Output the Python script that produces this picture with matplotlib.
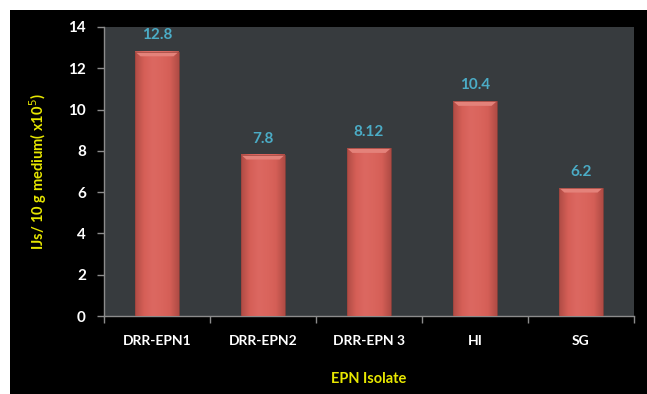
import numpy as np
import matplotlib
matplotlib.use("Agg")
import matplotlib.pyplot as plt
from matplotlib.patches import Rectangle, Polygon
from matplotlib.colors import LinearSegmentedColormap

plt.rcParams['font.family'] = ['Lato', 'DejaVu Sans']

isolates = ["DRR-EPN1", "DRR-EPN2", "DRR-EPN 3", "HI", "SG"]
ijs_counts = [12.8, 7.8, 8.12, 10.4, 6.2]
count_labels = ["12.8", "7.8", "8.12", "10.4", "6.2"]
y_ticks = [0, 2, 4, 6, 8, 10, 12, 14]

fig = plt.figure(figsize=(6.47, 3.94), dpi=100, facecolor="white")
# black chart panel
fig.patches.append(Rectangle((10 / 647, 0), 1, 1 - 10 / 394, transform=fig.transFigure,
                             facecolor="black", edgecolor="none", zorder=-10))

ax = fig.add_axes([104 / 647, 78 / 394, 530 / 647, 289 / 394])
ax.set_facecolor("#373b3e")

x = np.arange(len(isolates))
bars = ax.bar(x, ijs_counts, width=0.41, color="#d9645c", edgecolor="none", zorder=2)

# horizontal shading across each bar, darker at the sides
shade = LinearSegmentedColormap.from_list(
    "barshade", ["#b04c45", "#d55f57", "#dc6861", "#da655d", "#d55f57", "#b04c45"])
grad = np.linspace(0, 1, 64).reshape(1, -1)
for b in bars:
    x0, w, h = b.get_x(), b.get_width(), b.get_height()
    ax.imshow(grad, cmap=shade, aspect="auto", extent=(x0, x0 + w, 0, h),
              zorder=3, interpolation="bicubic")
    # soft bevel at the top
    bev = 0.22
    inset = w * 0.12
    ax.add_patch(Polygon([(x0, h), (x0 + w, h), (x0 + w - inset, h - bev), (x0 + inset, h - bev)],
                         closed=True, facecolor="#e4827a", edgecolor="none", zorder=4))
    ax.add_patch(Rectangle((x0, 0), w, h, facecolor="none", edgecolor="#9a423b",
                           lw=0.5, zorder=5))

for xi, v, lab in zip(x, ijs_counts, count_labels):
    ax.text(xi, v + 0.45, lab, ha="center", va="bottom", color="#4bacc6",
            fontsize=11, fontweight="bold", zorder=6)

ax.set_xlim(-0.5, len(isolates) - 0.5)
ax.set_ylim(0, 14)
ax.set_yticks(y_ticks)
ax.set_yticklabels([str(t) for t in y_ticks])
ax.set_xticks(x)
ax.set_xticklabels(isolates)
ax.set_xticks(np.arange(-0.5, len(isolates)), minor=True)

for s in ["top", "right"]:
    ax.spines[s].set_visible(False)
for s in ["left", "bottom"]:
    ax.spines[s].set_color("#8c8c8c")
    ax.spines[s].set_linewidth(1.0)

ax.tick_params(axis="y", colors="#8c8c8c", labelcolor="white", labelsize=11,
               length=5, width=1, pad=8)
ax.tick_params(axis="x", which="major", length=0, labelcolor="white", labelsize=10, pad=14)
ax.tick_params(axis="x", which="minor", length=5, width=1, colors="#8c8c8c")
for lab in ax.get_xticklabels() + ax.get_yticklabels():
    lab.set_fontweight("bold")

ax.set_xlabel("EPN Isolate", color="#e8e800", fontsize=10.5, fontweight="bold", labelpad=18)
ax.set_ylabel("IJs/ 10 g medium( x10$^{5}$)", color="#e8e800", fontsize=10.5,
              fontweight="bold", labelpad=14)

fig.savefig("out.png", dpi=100, facecolor=fig.get_facecolor())
